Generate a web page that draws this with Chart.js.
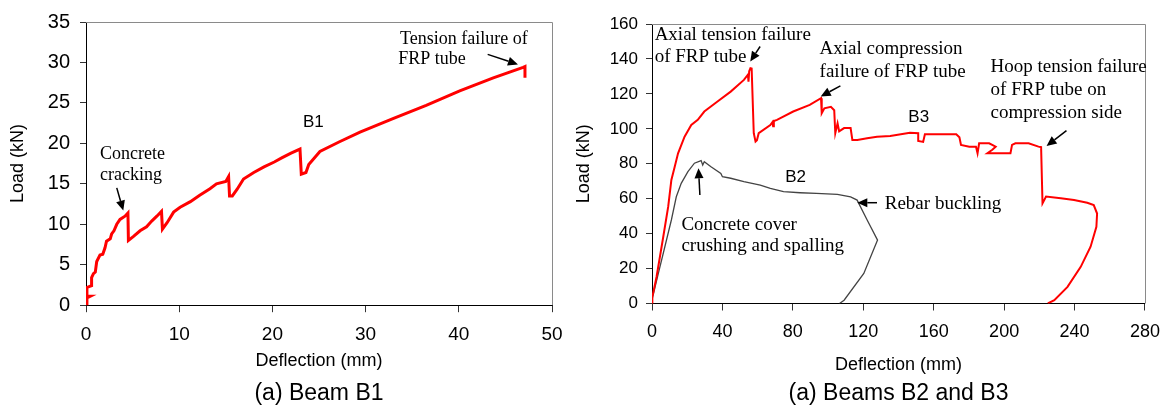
<!DOCTYPE html>
<html>
<head>
<meta charset="utf-8">
<script src="https://cdn.jsdelivr.net/npm/chart.js@4.4.0/dist/chart.umd.min.js"></script>
<style>
  body { margin: 0; background: #fff; width: 1171px; height: 410px; position: relative; overflow: hidden; }
  canvas { position: absolute; top: 0; }
  #c1 { left: 0; }
  #c2 { left: 565px; }
</style>
</head>
<body>
<canvas id="c1" width="575" height="410"></canvas>
<canvas id="c2" width="606" height="410"></canvas>
<script>
// Beam B1 (left panel)
const b1Deflection = [0, 0.1, 0.45, 0.1, 0.1, 0.6, 0.6, 0.8, 1.0, 1.15, 1.5, 1.8, 2.04, 2.2, 2.6, 2.75, 3.0, 3.3, 3.65, 4.18, 4.5, 4.55,
  5.1, 5.8, 6.5, 7.05, 7.6, 8.1, 8.2, 8.7, 9.4, 10.1, 11.2, 12.2, 13.3, 14.0, 15.0, 15.3, 15.4, 15.7, 16.2, 16.9, 18.0, 19.1,
  20.2, 21.0, 22.0, 22.96, 23.1, 23.6, 23.9, 25.1, 27.2, 29.4, 33.0, 36.5, 40.1, 43.7, 46.9, 47.1, 47.1];
const b1Load = [0, 0.9, 1.1, 1.1, 2.2, 2.4, 3.4, 3.9, 4.1, 5.4, 6.2, 6.3, 7.1, 7.9, 8.2, 8.8, 9.2, 10.0, 10.6, 11.0, 11.4, 8.0,
  8.5, 9.2, 9.7, 10.4, 11.0, 11.6, 9.4, 10.2, 11.5, 12.1, 12.8, 13.6, 14.4, 15.0, 15.3, 15.9, 13.5, 13.5, 14.3, 15.6, 16.4, 17.1,
  17.7, 18.2, 18.8, 19.3, 16.2, 16.4, 17.4, 19.0, 20.2, 21.4, 23.1, 24.7, 26.5, 28.1, 29.4, 29.5, 28.1];
const b1XTicks = [0, 10, 20, 30, 40, 50];
const b1YTicks = [0, 5, 10, 15, 20, 25, 30, 35];

// Beam B2 (right panel, grey)
const b2Deflection = [0, 0.2, 3.6, 7.3, 11.0, 13.8, 16.6, 20.4, 24.1, 27.9, 28.8, 29.7, 33.5, 39.1, 40.0, 44.7, 52.2, 61.5, 67.2,
  74.7, 84.1, 93.4, 105.3, 112.8, 116.5, 122.2, 128.1, 120.3, 109.1, 106.5];
const b2Load = [0, 2.9, 17.2, 32.5, 47.8, 61.1, 68.8, 75.5, 80.3, 81.8, 79.3, 81.2, 78.3, 74.5, 72.6, 71.7, 69.8, 67.8, 65.9,
  64.0, 63.4, 63.0, 62.5, 61.0, 59.2, 47.8, 36.3, 17.2, 1.9, 0];

// Beam B3 (right panel, red)
const b3Deflection = [0, 0.2, 2.6, 6.4, 9.2, 11.0, 12.9, 14.8, 18.5, 22.3, 26.0, 29.7, 37.2, 44.7, 52.2, 54.5, 54.8, 55.2, 55.9,
  56.6, 57.8, 58.8, 59.6, 60.6, 67.2, 68.5, 68.8, 69.2, 71.0, 80.2, 89.6, 96.0, 96.4, 97.9, 101.6, 103.5, 104.1, 105.4, 106.3,
  109.1, 112.8, 113.8, 116.6, 122.2, 127.8, 135.3, 146.5, 151.2, 151.2, 154.0, 155.0, 163.4, 172.8, 174.6, 175.5, 180.2, 184.0,
  184.9, 185.8, 191.5, 195.2, 193.3, 190.5, 203.6, 204.5, 206.4, 213.9, 219.5, 221.0, 221.8, 223.8, 232.2, 239.7, 247.2, 250.9,
  252.8, 252.4, 249.1, 243.5, 236.0, 228.5, 224.8];
const b3Load = [0, 3.8, 15.3, 38.2, 55.4, 70.7, 78.3, 86.0, 95.5, 102.2, 105.1, 109.9, 115.6, 121.3, 128.0, 131.0, 127.0, 133.0, 134.7,
  134.5, 97.5, 92.7, 93.5, 97.5, 102.2, 104.0, 101.5, 104.5, 105.1, 109.9, 113.7, 117.5, 108.9, 111.7, 112.6, 110.6, 97.5, 103.2, 98.5,
  100.4, 100.4, 93.6, 93.6, 94.6, 95.5, 95.9, 97.8, 97.5, 93.1, 92.5, 96.9, 96.9, 96.9, 95.1, 90.8, 89.8, 89.8,
  86.0, 91.7, 91.7, 89.8, 88.0, 86.0, 86.0, 90.8, 91.7, 91.7, 89.8, 89.5, 57.3, 61.2, 60.2, 59.2, 57.7, 56.3,
  51.5, 43.9, 32.5, 21.0, 9.5, 1.9, 0];
const b23XTicks = [0, 40, 80, 120, 160, 200, 240, 280];
const b23YTicks = [0, 20, 40, 60, 80, 100, 120, 140, 160];

const SANS = "'Liberation Sans', Arial, sans-serif";
const SERIF_L = "18px 'Liberation Serif', 'Times New Roman', serif";
const SERIF_R = "19px 'Liberation Serif', 'Times New Roman', serif";
const LABEL = "17px 'Liberation Sans', Arial, sans-serif";

const pts = (xs, ys) => xs.map((v, i) => ({ x: v, y: ys[i] }));

// text notes and arrows, drawn on top of the data
const notesPlugin = {
  id: 'notes',
  afterDatasetsDraw(chart, args, opts) {
    const { ctx, chartArea: a, scales: { x, y } } = chart;
    ctx.save();
    // grey frame on top and right
    ctx.strokeStyle = '#8a8a8a';
    ctx.lineWidth = 1;
    ctx.beginPath();
    ctx.moveTo(a.left, Math.round(a.top) + 0.5);
    ctx.lineTo(Math.round(a.right) + 0.5, Math.round(a.top) + 0.5);
    ctx.lineTo(Math.round(a.right) + 0.5, a.bottom);
    ctx.stroke();

    ctx.fillStyle = '#000';
    ctx.textBaseline = 'middle';
    for (const t of opts.texts) {
      ctx.font = t.font;
      ctx.textAlign = t.align || 'left';
      ctx.fillText(t.text, x.getPixelForValue(t.x), y.getPixelForValue(t.y));
    }
    ctx.strokeStyle = '#000';
    ctx.lineWidth = 1.5;
    for (const ar of opts.arrows) {
      const x1 = x.getPixelForValue(ar[0]), y1 = y.getPixelForValue(ar[1]);
      const x2 = x.getPixelForValue(ar[2]), y2 = y.getPixelForValue(ar[3]);
      const ang = Math.atan2(y2 - y1, x2 - x1);
      const hl = 10, hw = 4.5;
      const bx = x2 - hl * Math.cos(ang), by = y2 - hl * Math.sin(ang);
      ctx.beginPath();
      ctx.moveTo(x1, y1);
      ctx.lineTo(bx, by);
      ctx.stroke();
      ctx.beginPath();
      ctx.moveTo(x2, y2);
      ctx.lineTo(bx + hw * Math.sin(ang), by - hw * Math.cos(ang));
      ctx.lineTo(bx - hw * Math.sin(ang), by + hw * Math.cos(ang));
      ctx.closePath();
      ctx.fill();
    }
    ctx.restore();
  }
};

function axes(xTicks, yTicks, o) {
  return {
    x: {
      type: 'linear', min: xTicks[0], max: xTicks[xTicks.length - 1],
      afterBuildTicks: s => { s.ticks = xTicks.map(v => ({ value: v })); },
      afterFit: s => { s.height = o.xHeight; },
      grid: { drawOnChartArea: false, drawTicks: true, tickLength: 7, color: '#333' },
      border: { color: '#000', width: 1 },
      ticks: { color: '#000', padding: 11, font: { family: SANS, size: o.xTickSize } },
      title: { display: true, text: 'Deflection (mm)', color: '#000', padding: { top: 0, bottom: o.xTitlePad },
        font: { family: SANS, size: 18 } }
    },
    y: {
      type: 'linear', min: yTicks[0], max: yTicks[yTicks.length - 1],
      afterBuildTicks: s => { s.ticks = yTicks.map(v => ({ value: v })); },
      afterFit: s => { s.width = o.yWidth; },
      grid: { drawOnChartArea: false, drawTicks: true, tickLength: 6, color: '#333' },
      border: { color: '#000', width: 1 },
      ticks: { color: '#000', padding: o.yPad, font: { family: SANS, size: o.yTickSize } },
      title: { display: true, text: 'Load (kN)', color: '#000', padding: { top: o.yTitlePad, bottom: 0 },
        font: { family: SANS, size: 18 } }
    }
  };
}

function caption(text) {
  return {
    display: true, text: text, position: 'bottom', fullSize: false, color: '#000',
    padding: { top: 0, bottom: 3 }, font: { family: SANS, size: 23, weight: 'normal' }
  };
}

new Chart(document.getElementById('c1'), {
  type: 'scatter',
  data: {
    datasets: [{
      label: 'B1', data: pts(b1Deflection, b1Load), showLine: true,
      borderColor: '#ff0000', borderWidth: 3, pointRadius: 0, tension: 0
    }]
  },
  options: {
    responsive: false, animation: false, events: [],
    layout: { padding: { left: 0, top: 19, right: 23, bottom: 0 } },
    scales: axes(b1XTicks, b1YTicks, { xHeight: 74.2, yWidth: 86, xTickSize: 19, yTickSize: 20, yPad: 10, yTitlePad: 7, xTitlePad: 8 }),
    plugins: {
      legend: { display: false }, tooltip: { enabled: false },
      title: caption('(a) Beam B1'),
      notes: {
        texts: [
          { text: 'Concrete', x: 1.5, y: 18.6, font: SERIF_L },
          { text: 'cracking', x: 1.5, y: 16.0, font: SERIF_L },
          { text: 'B1', x: 24.4, y: 22.6, font: LABEL, align: 'center' },
          { text: 'Tension failure of', x: 33.7, y: 32.9, font: SERIF_L },
          { text: 'FRP tube', x: 33.5, y: 30.35, font: SERIF_L }
        ],
        arrows: [
          [3.3, 14.5, 4.0, 11.7],
          [43.1, 31.0, 46.35, 29.75]
        ]
      }
    }
  },
  plugins: [notesPlugin]
});

new Chart(document.getElementById('c2'), {
  type: 'scatter',
  data: {
    datasets: [{
      label: 'B3', data: pts(b3Deflection, b3Load), showLine: true,
      borderColor: '#ff0000', borderWidth: 2, pointRadius: 0, tension: 0
    }, {
      label: 'B2', data: pts(b2Deflection, b2Load), showLine: true,
      borderColor: '#444444', borderWidth: 1.3, pointRadius: 0, tension: 0
    }]
  },
  options: {
    responsive: false, animation: false, events: [],
    layout: { padding: { left: 0, top: 24, right: 20, bottom: 0 } },
    scales: axes(b23XTicks, b23YTicks, { xHeight: 75.9, yWidth: 87, xTickSize: 18, yTickSize: 17, yPad: 8, yTitlePad: 8, xTitlePad: 4 }),
    plugins: {
      legend: { display: false }, tooltip: { enabled: false },
      title: caption('(a) Beams B2 and B3'),
      notes: {
        texts: [
          { text: 'Axial tension failure', x: 1.5, y: 153.8, font: SERIF_R },
          { text: 'of FRP tube', x: 1.5, y: 141.2, font: SERIF_R },
          { text: 'Axial compression', x: 95.2, y: 145.8, font: SERIF_R },
          { text: 'failure of FRP tube', x: 95.2, y: 132.6, font: SERIF_R },
          { text: 'Hoop tension failure', x: 192.3, y: 135.5, font: SERIF_R },
          { text: 'of FRP tube on', x: 192.3, y: 122.3, font: SERIF_R },
          { text: 'compression side', x: 192.3, y: 109.1, font: SERIF_R },
          { text: 'B3', x: 151.5, y: 106.8, font: LABEL, align: 'center' },
          { text: 'B2', x: 81.6, y: 72.4, font: LABEL, align: 'center' },
          { text: 'Concrete cover', x: 16.7, y: 44.9, font: SERIF_R },
          { text: 'crushing and spalling', x: 16.7, y: 32.9, font: SERIF_R },
          { text: 'Rebar buckling', x: 132.2, y: 56.9, font: SERIF_R }
        ],
        arrows: [
          [61.4, 147.1, 55.8, 138.5],
          [107.0, 124.6, 95.8, 118.5],
          [235.4, 99.0, 224.1, 90.2],
          [27.2, 62.1, 26.4, 77.4],
          [127.8, 57.7, 116.6, 57.7]
        ]
      }
    }
  },
  plugins: [notesPlugin]
});
</script>
</body>
</html>
